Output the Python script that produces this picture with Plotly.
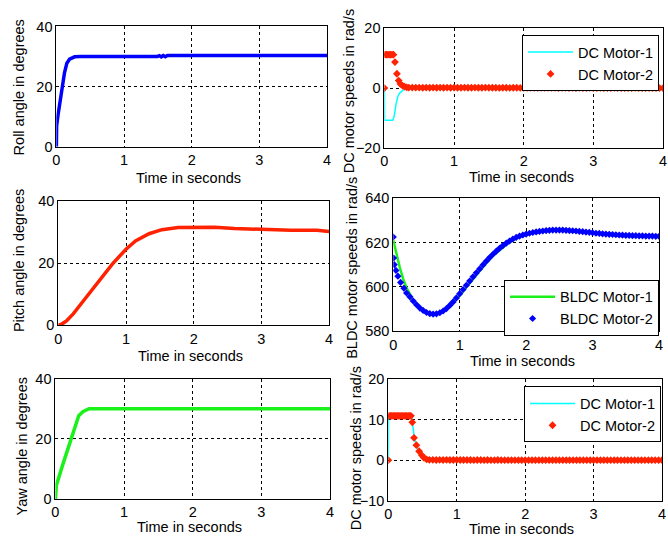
import plotly.graph_objects as go

W, H = 668, 541
FONT = "Liberation Sans, Arial, sans-serif"
FS = 14.5

# ---------------- data ----------------
ROLL_T = [0, 0.004, 0.025, 0.07, 0.12, 0.155, 0.195, 0.27, 0.35, 1.0, 1.49, 1.52, 1.55, 1.58, 1.61, 1.64, 1.68, 2.0, 3.0, 4.0]
ROLL_V = [0, 7.0, 10.6, 18.0, 24.6, 27.8, 29.1, 29.9, 30.0, 30.0, 30.0, 30.3, 29.9, 30.35, 29.95, 30.35, 30.3, 30.3, 30.3, 30.3]

PITCH_T = [0, 0.05, 0.12, 0.22, 0.36, 0.49, 0.66, 0.8, 1.0, 1.14, 1.34, 1.53, 1.77, 2.02, 2.31, 2.6, 2.99, 3.43, 3.82, 4.0]
PITCH_V = [0, 0.4, 1.4, 3.7, 7.6, 11.2, 16.2, 19.8, 24.5, 27.2, 29.5, 30.8, 31.5, 31.6, 31.6, 31.2, 30.8, 30.6, 30.6, 30.2]

YAW_T = [0, 0.015, 0.11, 0.23, 0.34, 0.4, 0.49, 0.6, 1.0, 2.0, 3.0, 4.0]
YAW_V = [0, 4.6, 11.6, 20.2, 27.7, 29.0, 30.0, 30.0, 30.0, 30.0, 30.0, 30.0]

# common sampling times of the dense marker series
T_A = [0.40, 0.45, 0.50, 0.55, 0.60, 0.65, 0.70, 0.75, 0.80, 0.85,
       0.90, 0.95, 1.00, 1.05, 1.10, 1.15, 1.20, 1.25, 1.30, 1.35,
       1.40, 1.45, 1.50, 1.55, 1.60, 1.65, 1.70, 1.75, 1.80, 1.85,
       1.90, 1.95, 2.00, 2.05, 2.10, 2.15, 2.20, 2.25, 2.30, 2.35,
       2.40, 2.45, 2.50, 2.55, 2.60, 2.65, 2.70, 2.75, 2.80, 2.85,
       2.90, 2.95, 3.00, 3.05, 3.10, 3.15, 3.20, 3.25, 3.30, 3.35,
       3.40, 3.45, 3.50, 3.55, 3.60, 3.65, 3.70, 3.75, 3.80, 3.85,
       3.90, 3.95, 4.00]

# top DC motors
DC1_M1_T = [0, 0.003, 0.12, 0.14, 0.165, 0.19, 0.215, 0.24, 0.27, 0.31, 0.36, 0.45, 4.0]
DC1_M1_V = [0, -10.8, -10.8, -9.5, -5.7, -3.0, -1.8, -1.1, -0.6, -0.3, -0.1, 0, 0]
DC1_M2_T = [0, 0.01, 0.03, 0.05, 0.07, 0.09, 0.11, 0.13, 0.152, 0.18, 0.205, 0.23, 0.26, 0.29, 0.32, 0.35] + T_A
DC1_M2_V = [0, 11.2, 11.2, 11.2, 11.2, 11.2, 11.2, 11.2, 8.7, 4.8, 2.5, 1.4, 0.8, 0.45, 0.25, 0.15] + [
    0.15, 0.15, 0.15, 0.1, 0.15, 0.1, 0.15, 0.1, 0.15, 0.1,
    0.15, 0.1, 0.15, 0.1, 0.1, 0.15, 0.1, 0.1, 0.15, 0.1,
    0.1, 0.15, 0.1, 0.1, 0.1, 0.05, 0.1, 0.1, 0.05, 0.1,
    0.1, 0.05, 0.1, 0.05, 0.1, 0.05, 0.05, 0.1, 0.05, 0.05,
    0.05, 0.05, 0.0, 0.05, 0.05, 0.0, 0.05, 0.0, 0.05, 0.0,
    0.0, 0.05, 0.0, 0.0, 0.05, 0.0, 0.0, 0.0, 0.05, 0.0,
    0.0, 0.0, 0.0, 0.0, 0.05, 0.0, 0.0, 0.0, 0.0, 0.0,
    0.0, 0.0, 0.0]

# BLDC motors
BLDC_M1_T = [0, 0.05, 0.1, 0.15, 0.2, 0.3, 0.4, 0.5, 0.6, 0.7, 0.8, 0.9, 1.0, 1.1, 1.2, 1.3, 1.4, 1.5, 1.6, 1.7, 1.8, 1.9, 2.0, 2.2, 2.5, 2.8, 3.0, 3.5, 4.0]
BLDC_M1_V = [621, 614.5, 608.5, 603.5, 599.5, 594, 590.8, 588.8, 587.8, 588, 589.8, 592.8, 596.0, 599.8, 603.6, 607.3, 610.8, 614.0, 616.7, 619.0, 621.0, 622.5, 623.6, 625.0, 625.6, 625.0, 624.4, 623.2, 622.8]
BLDC_M2_T = [0, 0.005, 0.015, 0.04, 0.07, 0.11, 0.16, 0.20, 0.25, 0.30, 0.35] + T_A
BLDC_M2_V = [622.5, 613, 610, 607.4, 604.8, 602, 599.4, 597.2, 595.5, 593.6, 591.9,
    590.4, 589.3, 588.4, 587.9, 587.7, 587.8, 588.3, 589.1, 590.2, 591.6,
    593.2, 595.0, 596.9, 598.8, 600.7, 602.6, 604.5, 606.3, 608.1, 609.9,
    611.6, 613.2, 614.7, 616.1, 617.4, 618.6, 619.7, 620.7, 621.6, 622.3,
    622.9, 623.4, 623.8, 624.2, 624.5, 624.8, 625.0, 625.2, 625.4, 625.5,
    625.6, 625.6, 625.6, 625.6, 625.5, 625.4, 625.3, 625.2, 625.0, 624.9,
    624.7, 624.6, 624.4, 624.2, 624.1, 623.9, 623.8, 623.7, 623.6, 623.5,
    623.4, 623.3, 623.2, 623.2, 623.1, 623.1, 623.0, 623.0, 622.9, 622.9,
    622.9, 622.8, 622.8]

# bottom DC motors
DC2_M1_T = [0, 0.003, 0.34, 0.36, 0.38, 0.41, 0.45, 0.49, 0.53, 0.57, 0.62, 4.0]
DC2_M1_V = [0, 10.9, 10.9, 8.5, 5.5, 3.7, 2.2, 1.2, 0.5, 0.15, 0, 0]
DC2_M2_T = [0, 0.01, 0.03, 0.05, 0.07, 0.09, 0.11, 0.13, 0.15, 0.17, 0.19, 0.21, 0.23, 0.25, 0.27, 0.29, 0.31, 0.33,
            0.35, 0.375, 0.41, 0.45, 0.49, 0.52, 0.56] + T_A[4:]
DC2_M2_V = [0, 10.9, 10.9, 10.9, 10.9, 10.9, 10.9, 10.9, 10.9, 10.9, 10.9, 10.9, 10.9, 10.9, 10.9, 10.9, 10.9, 10.9,
            9.3, 5.5, 3.7, 2.2, 1.2, 0.6, 0.2] + [
    0.1, 0.1, 0.05, 0.1, 0.05, 0.1, 0.05, 0.05, 0.1, 0.05,
    0.05, 0.05, 0.05, 0.0, 0.05, 0.05, 0.0, 0.05, 0.0, 0.0,
    0.05, 0.0, 0.0, 0.0, 0.0, 0.0, 0.0, 0.0, 0.0, 0.0,
    0.0, 0.0, 0.0, 0.0, 0.0, 0.0, 0.0, 0.0, 0.0, 0.0,
    0.0, 0.0, 0.0, 0.0, 0.0, 0.0, 0.0, 0.0, 0.0, 0.0,
    0.0, 0.0, 0.0, 0.0, 0.0, 0.0, 0.0, 0.0, 0.0, 0.0,
    0.0, 0.0, 0.0, 0.0, 0.0, 0.0, 0.0, 0.0, 0.0]

X_TICKS = [0, 1, 2, 3, 4]
ANGLE_TICKS = [0, 20, 40]
DC1_TICKS = [-20, 0, 20]
BLDC_TICKS = [580, 600, 620, 640]
DC2_TICKS = [-10, 0, 10, 20]

# ---------------- colours ----------------
BLUE = "#0000FF"
RED = "#FF2200"
GREEN = "#1AF01A"
CYAN = "#00FFFF"

fig = go.Figure()

def add_line(t, v, color, width, ax, name=None, legend=None):
    fig.add_trace(go.Scatter(x=t, y=v, mode="lines", line=dict(color=color, width=width),
                             xaxis="x" + ax, yaxis="y" + ax, name=name,
                             showlegend=legend is not None, legend=legend or "legend"))

def add_markers(t, v, color, size, ax, name, legend):
    fig.add_trace(go.Scatter(x=t, y=v, mode="markers",
                             marker=dict(color=color, size=size, symbol="diamond", line=dict(width=0)),
                             xaxis="x" + ax, yaxis="y" + ax, name=name,
                             showlegend=True, legend=legend))

add_line(ROLL_T, ROLL_V, BLUE, 3.5, "")
add_line(DC1_M1_T, DC1_M1_V, CYAN, 1.5, "2", "DC Motor-1", "legend")
add_markers(DC1_M2_T, DC1_M2_V, RED, 6, "2", "DC Motor-2", "legend")
add_line(PITCH_T, PITCH_V, RED, 3.5, "3")
add_line(BLDC_M1_T, BLDC_M1_V, GREEN, 2.5, "4", "BLDC Motor-1", "legend2")
add_markers(BLDC_M2_T, BLDC_M2_V, BLUE, 5.5, "4", "BLDC Motor-2", "legend2")
add_line(YAW_T, YAW_V, GREEN, 3.5, "5")
add_line(DC2_M1_T, DC2_M1_V, CYAN, 1.5, "6", "DC Motor-1", "legend3")
add_markers(DC2_M2_T, DC2_M2_V, RED, 6, "6", "DC Motor-2", "legend3")

common = dict(showline=True, mirror=True, linecolor="black", linewidth=1,
              showgrid=True, gridcolor="black", griddash="3px,3px", gridwidth=1,
              zeroline=False, ticks="", tickfont=dict(size=FS, color="black", family=FONT),
              fixedrange=True)

# pixel boxes: (left, right, top, bottom)
boxes = {
    "": (53, 327, 19, 143),
    "2": (385, 667, 21, 144),
    "3": (55, 329, 199, 327),
    "4": (394, 663, 196, 333),
    "5": (52, 330, 382, 506),
    "6": (389, 666, 382, 508),
}
yranges = {"": ([0, 40], ANGLE_TICKS), "2": ([-20, 20], DC1_TICKS), "3": ([0, 40], ANGLE_TICKS),
           "4": ([580, 640], BLDC_TICKS), "5": ([0, 40], ANGLE_TICKS), "6": ([-10, 20], DC2_TICKS)}

lay = {}
for k, (l, r, t, b) in boxes.items():
    lay["xaxis" + k] = dict(domain=[l / W, r / W], anchor="y" + k, range=[0, 4], tickvals=X_TICKS, **common)
    rng, tv = yranges[k]
    lay["yaxis" + k] = dict(domain=[1 - b / H, 1 - t / H], anchor="x" + k, range=rng, tickvals=tv, **common)

def P(x, y):
    return x / W, 1 - y / H

titles = [
    ("Roll angle in degrees", 15, 82, -90),
    ("Time in seconds", 187, 175, 0),
    ("DC motor speeds in rad/s", 350, 86, -90),
    ("Time in seconds", 524, 174, 0),
    ("Pitch angle in degrees", 16, 260, -90),
    ("Time in seconds", 189, 359, 0),
    ("BLDC motor speeds in rad/s", 352, 268, -90),
    ("Time in seconds", 525, 364, 0),
    ("Yaw angle in degrees", 18, 452, -90),
    ("Time in seconds", 188, 535, 0),
    ("DC motor speeds in rad/s", 356, 454, -90),
    ("Time in seconds", 524, 537, 0),
]
annotations = []
for text, x, y, ang in titles:
    px, py = P(x, y)
    annotations.append(dict(text=text, x=px, y=py, xref="paper", yref="paper", showarrow=False,
                            xanchor="center", yanchor="middle", textangle=ang,
                            font=dict(size=FS, color="black", family=FONT)))

def legend_at(right, top):
    lx, ly = P(right, top)
    return dict(x=lx, y=ly, xanchor="right", yanchor="top", xref="paper", yref="paper",
                bgcolor="white", bordercolor="black", borderwidth=1, itemwidth=45,
                font=dict(size=FS, color="black", family=FONT))

fig.update_layout(
    width=W, height=H, margin=dict(l=0, r=0, t=0, b=0),
    paper_bgcolor="white", plot_bgcolor="white",
    font=dict(family=FONT, size=FS, color="black"),
    annotations=annotations,
    legend=legend_at(663, 28),
    legend2=legend_at(663, 280),
    legend3=legend_at(665, 390),
    **lay,
)

fig.write_html("out.html")
